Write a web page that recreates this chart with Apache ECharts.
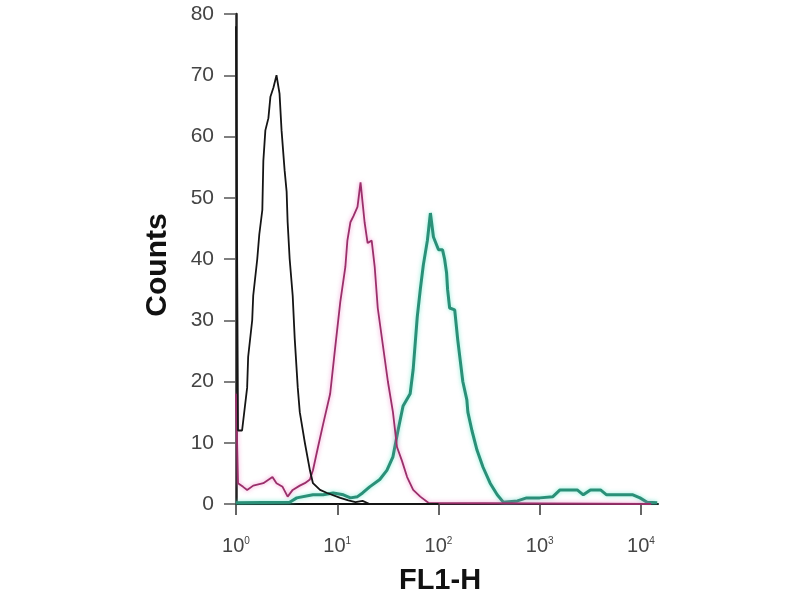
<!DOCTYPE html>
<html>
<head>
<meta charset="utf-8">
<script src="https://cdn.jsdelivr.net/npm/echarts@6/dist/echarts.min.js"></script>
<style>html,body{margin:0;padding:0;background:#fff}#c{width:800px;height:600px}</style>
</head>
<body>
<div id="c"></div>
<script>
// x values are log10(FL1-H), y values are counts
var xTickExponents = [0, 1, 2, 3, 4];
var yTicks = [0, 10, 20, 30, 40, 50, 60, 70, 80];

var blackX = [0, 0.02, 0.06, 0.11, 0.12, 0.16, 0.17, 0.21, 0.23, 0.26, 0.27, 0.29, 0.32, 0.34, 0.37, 0.40, 0.43, 0.45, 0.48, 0.50, 0.51, 0.53, 0.56, 0.58, 0.61, 0.63, 0.68, 0.73, 0.76, 0.83, 0.90, 1.03, 1.11, 1.18, 1.25, 1.32, 2.0];
var blackY = [78, 12, 12, 19, 24, 30, 34, 40, 44, 48, 56, 61, 63, 66.5, 68, 70, 67, 61, 54.5, 51, 46, 40, 34, 27, 19, 15, 10, 5.5, 3.4, 2.3, 1.8, 1, 0.6, 0.3, 0.5, 0, 0];

var magentaX = [0, 0.02, 0.07, 0.11, 0.17, 0.27, 0.36, 0.40, 0.46, 0.51, 0.56, 0.63, 0.68, 0.73, 0.76, 0.81, 0.86, 0.93, 0.98, 1.03, 1.08, 1.10, 1.13, 1.16, 1.20, 1.23, 1.27, 1.30, 1.34, 1.37, 1.40, 1.45, 1.50, 1.55, 1.59, 1.64, 1.69, 1.75, 1.82, 1.90, 4.1];
var magentaY = [18, 3.4, 2.8, 2.3, 3, 3.4, 4.4, 3.4, 2.8, 1.2, 2.3, 3, 3.4, 4, 5.5, 9.3, 13, 18, 25.6, 33, 38.7, 43, 46, 47, 48.5, 52.5, 46, 42.6, 43, 38.7, 32, 26, 20, 15, 9.3, 7, 4.4, 2.3, 1.2, 0.2, 0];

var tealX = [0, 0.53, 0.60, 0.76, 0.86, 0.96, 1.06, 1.13, 1.20, 1.25, 1.32, 1.42, 1.49, 1.55, 1.60, 1.65, 1.72, 1.75, 1.79, 1.82, 1.85, 1.89, 1.92, 1.95, 2.00, 2.04, 2.06, 2.08, 2.09, 2.11, 2.16, 2.19, 2.24, 2.28, 2.29, 2.33, 2.38, 2.44, 2.51, 2.58, 2.64, 2.78, 2.87, 3.00, 3.13, 3.20, 3.37, 3.43, 3.50, 3.60, 3.66, 3.79, 3.92, 3.99, 4.06, 4.16];
var tealY = [0.2, 0.3, 1, 1.5, 1.5, 1.8, 1.5, 1, 1.2, 1.8, 2.8, 4, 5.5, 7.7, 12, 16, 18, 22, 30.5, 35, 39, 43, 47.5, 43.6, 41.5, 41.5, 40, 37.7, 35, 32, 31.7, 26.8, 20, 17, 15, 12, 8.8, 6, 3.4, 1.5, 0.3, 0.5, 1, 1, 1.2, 2.3, 2.3, 1.5, 2.3, 2.3, 1.5, 1.5, 1.5, 1, 0.3, 0.2];

function pairs(xs, ys) { return xs.map(function (x, i) { return [x, ys[i]]; }); }

var plotLeft = 236, dataRight = 658, tickRight = 641;
var dataMax = xTickExponents[xTickExponents.length - 1] * (dataRight - plotLeft) / (tickRight - plotLeft);

var chart = echarts.init(document.getElementById('c'), null, { renderer: 'canvas' });
chart.setOption({
  animation: false,
  backgroundColor: '#fff',
  grid: [
    { left: plotLeft, right: 800 - dataRight, top: 14, bottom: 96 },
    { left: plotLeft, right: 800 - tickRight, top: 14, bottom: 96 }
  ],
  xAxis: [
    { type: 'value', gridIndex: 0, min: 0, max: dataMax,
      axisLine: { show: true, lineStyle: { color: '#111', width: 2 } },
      axisTick: { show: false }, axisLabel: { show: false }, splitLine: { show: false } },
    { type: 'value', gridIndex: 1, min: 0, max: 4, interval: 1,
      axisLine: { show: false },
      axisTick: { show: true, length: 11, lineStyle: { color: '#333', width: 1.5 } },
      splitLine: { show: false },
      axisLabel: { show: true, margin: 32,
        formatter: function (v) { return '{b|10}{s|' + v + '}'; },
        rich: {
          b: { fontSize: 20, fontFamily: '"Liberation Sans Narrow", "Liberation Sans"', color: '#444' },
          s: { fontSize: 10, fontFamily: '"Liberation Sans Narrow", "Liberation Sans"', color: '#444', padding: [0, 0, 10, 0] }
        } } }
  ],
  yAxis: [
    { type: 'value', gridIndex: 0, min: yTicks[0], max: yTicks[yTicks.length - 1], interval: 10,
      axisLine: { show: true, lineStyle: { color: '#222', width: 2.5 } },
      axisTick: { show: true, length: 12, lineStyle: { color: '#555', width: 1.5 } },
      splitLine: { show: false },
      axisLabel: { margin: 22, fontSize: 21, fontFamily: 'Liberation Sans', color: '#444' } },
    { type: 'value', gridIndex: 1, min: 0, max: 80, show: false }
  ],
  graphic: [
    { type: 'text', x: 158, y: 265, rotation: Math.PI / 2,
      style: { text: 'Counts', font: 'bold 30px "Liberation Sans"', fill: '#111', textAlign: 'center', textVerticalAlign: 'middle' } },
    { type: 'text', x: 440, y: 581,
      style: { text: 'FL1-H', font: 'bold 29px "Liberation Sans"', fill: '#111', textAlign: 'center', textVerticalAlign: 'middle' } }
  ],
  series: [
    { type: 'line', xAxisIndex: 0, yAxisIndex: 0, data: pairs(tealX, tealY), symbol: 'none', z: 3,
      lineStyle: { color: '#2a9078', width: 3, shadowColor: 'rgba(90,230,200,0.7)', shadowBlur: 4 } },
    { type: 'line', xAxisIndex: 0, yAxisIndex: 0, data: pairs(magentaX, magentaY), symbol: 'none', z: 4,
      lineStyle: { color: '#9a2f6a', width: 1.8, shadowColor: 'rgba(235,100,185,0.7)', shadowBlur: 4 } },
    { type: 'line', xAxisIndex: 0, yAxisIndex: 0, data: pairs(blackX, blackY), symbol: 'none', z: 5,
      lineStyle: { color: '#151515', width: 1.8 } }
  ]
});
</script>
</body>
</html>
